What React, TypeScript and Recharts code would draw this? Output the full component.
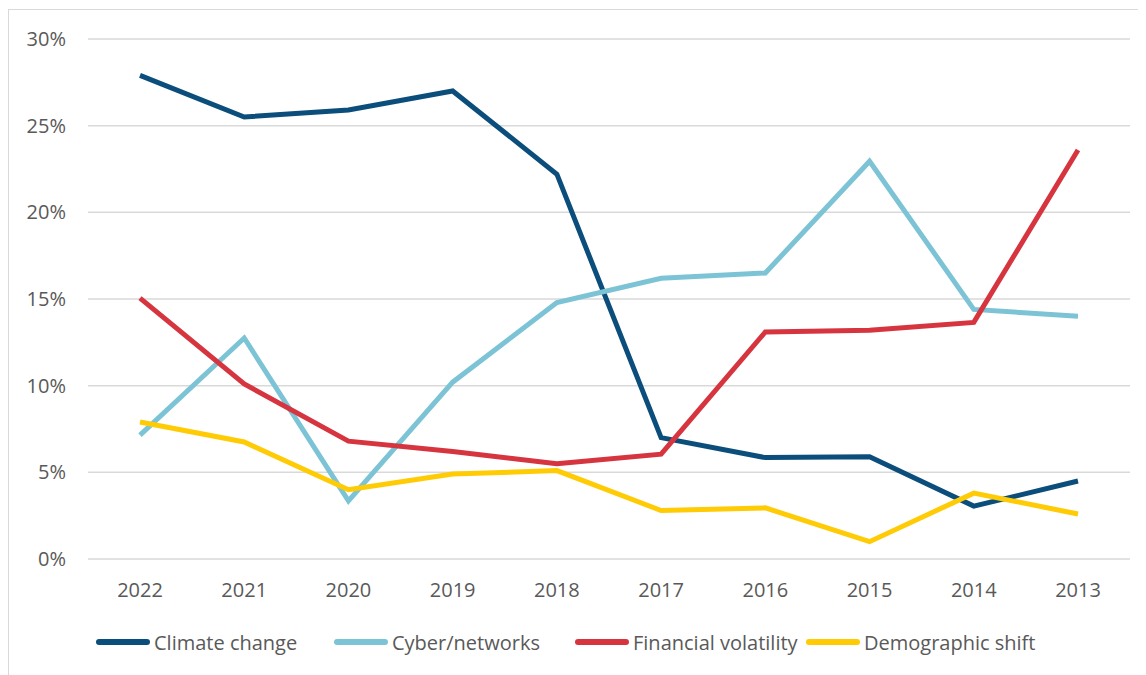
import { LineChart, Line, XAxis, YAxis, CartesianGrid } from "recharts";

const years = ["2022", "2021", "2020", "2019", "2018", "2017", "2016", "2015", "2014", "2013"];
const climateChange = [27.9, 25.5, 25.9, 27.0, 22.2, 7.0, 5.85, 5.9, 3.05, 4.5];
const cyberNetworks = [7.15, 12.75, 3.35, 10.2, 14.8, 16.2, 16.5, 22.95, 14.4, 14.0];
const financialVolatility = [15.05, 10.1, 6.8, 6.2, 5.5, 6.05, 13.1, 13.2, 13.65, 23.6];
const demographicShift = [7.9, 6.75, 4.0, 4.9, 5.1, 2.8, 2.95, 1.0, 3.8, 2.6];
const yTicks = [0, 5, 10, 15, 20, 25, 30];

const series = [
  { key: "climate", name: "Climate change", color: "#0b4d7b", values: climateChange },
  { key: "cyber", name: "Cyber/networks", color: "#7cc4d5", values: cyberNetworks },
  { key: "financial", name: "Financial volatility", color: "#d6353f", values: financialVolatility },
  { key: "demographic", name: "Demographic shift", color: "#ffcb05", values: demographicShift },
];

const data = years.map((year, i) => {
  const row: Record<string, string | number> = { year };
  series.forEach((s) => (row[s.key] = s.values[i]));
  return row;
});

const legendLeft = [87, 325, 566, 797];
const font = "'Open Sans', sans-serif";
const textColor = "#595959";

export default function App() {
  return (
    <div
      style={{
        position: "relative",
        left: -1,
        top: 1,
        width: 1160,
        height: 700,
        border: "1px solid #d9d9d9",
        borderLeftWidth: 2,
        background: "#fff",
        fontFamily: font,
      }}
    >
      <LineChart
        width={1150}
        height={600}
        data={data}
        margin={{ top: 29, right: 29, left: -1, bottom: 11 }}
      >
        <CartesianGrid vertical={false} stroke="#d9d9d9" strokeWidth={1.5} />
        <XAxis
          dataKey="year"
          axisLine={false}
          tickLine={false}
          tickSize={0}
          tickMargin={24}
          height={40}
          padding={{ left: 52, right: 52 }}
          tick={{ fill: textColor, fontSize: 20, fontFamily: font }}
        />
        <YAxis
          width={80}
          domain={[0, 30]}
          ticks={yTicks}
          axisLine={false}
          tickLine={false}
          tickSize={0}
          tickMargin={22}
          tickFormatter={(v: number) => `${v}%`}
          tick={{ fill: textColor, fontSize: 20, fontFamily: font }}
        />
        {series.map((s) => (
          <Line
            key={s.key}
            dataKey={s.key}
            name={s.name}
            stroke={s.color}
            strokeWidth={5}
            dot={false}
            activeDot={false}
            type="linear"
            isAnimationActive={false}
          />
        ))}
      </LineChart>
      <div style={{ position: "relative", height: 30, marginTop: 19 }}>
        {series.map((s, i) => (
          <div
            key={s.key}
            style={{
              position: "absolute",
              left: legendLeft[i],
              top: 0,
              display: "flex",
              alignItems: "center",
              height: 26,
            }}
          >
            <span
              style={{
                display: "inline-block",
                width: 54,
                height: 6,
                borderRadius: 3,
                background: s.color,
                marginRight: 4,
              }}
            />
            <span style={{ fontSize: 20, color: textColor }}>{s.name}</span>
          </div>
        ))}
      </div>
    </div>
  );
}
